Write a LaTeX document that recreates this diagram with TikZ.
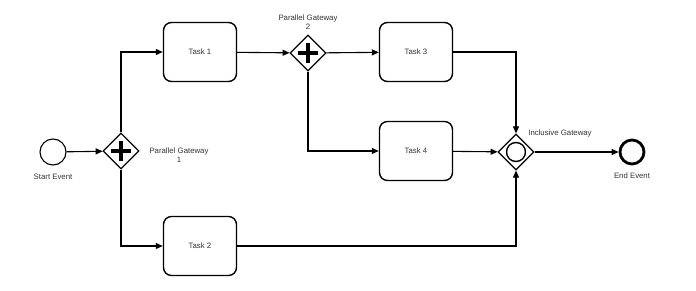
\documentclass[tikz,border=0pt]{standalone}
\usepackage{fontspec}
\setmainfont{Liberation Sans}
\usetikzlibrary{arrows.meta,shapes.geometric}
\begin{document}
\begin{tikzpicture}[x=1pt,y=-1pt,
  flow/.style={draw=black,line width=1.1pt,-{Triangle[length=7pt,width=6pt]}},
  task/.style={draw=black,line width=1.4pt,rounded corners=8pt,minimum width=73pt,minimum height=59pt,fill=white,font=\fontsize{7.8}{9}\selectfont,text=black!80},
  gate/.style={draw=black,line width=1.2pt,diamond,minimum width=36pt,minimum height=36pt,inner sep=0pt,fill=white},
  evt/.style={draw=black,circle,minimum size=26pt,inner sep=0pt,fill=white},
  lbl/.style={font=\fontsize{7.8}{9}\selectfont,text=black!80,align=center,inner sep=0pt}]
\useasboundingbox (0,0) rectangle (696,291);

% events
\node[evt,line width=1.1pt] (start) at (53,152) {};
\node[evt,line width=2.8pt,minimum size=24pt] (end) at (632,152) {};

% gateways
\node[gate] (g1) at (121,151) {};
\node[gate] (g2) at (308,53) {};
\node[gate] (g3) at (516,152) {};

% gateway markers
\foreach \g in {g1,g2}{
  \draw[line width=4pt] ([xshift=-10pt]\g.center) -- ([xshift=10pt]\g.center);
  \draw[line width=4pt] ([yshift=-10pt]\g.center) -- ([yshift=10pt]\g.center);
}
\draw[line width=1.4pt] (g3.center) circle (9.5pt);

% tasks
\node[task] (t1) at (200,52) {Task 1};
\node[task] (t2) at (200,246) {Task 2};
\node[task] (t3) at (416,52) {Task 3};
\node[task] (t4) at (416,151) {Task 4};

% labels
\node[lbl] at (53,177) {Start Event};
\node[lbl] at (179,155) {Parallel Gateway\\1};
\node[lbl] at (308,22) {Parallel Gateway\\2};
\node[lbl] at (560,133) {Inclusive Gateway};
\node[lbl] at (632,176) {End Event};

% sequence flows
\draw[flow] (start) -- (g1);
\draw[flow] (g1.north) |- (t1.west);
\draw[flow] (g1.south) |- (t2.west);
\draw[flow] (t1) -- (g2);
\draw[flow] (g2) -- (t3);
\draw[flow] (g2.south) |- (t4.west);
\draw[flow] (t3.east) -| (g3.north);
\draw[flow] (t4) -- (g3);
\draw[flow] (t2.east) -| (g3.south);
\draw[flow] (g3) -- (end);
\end{tikzpicture}
\end{document}
